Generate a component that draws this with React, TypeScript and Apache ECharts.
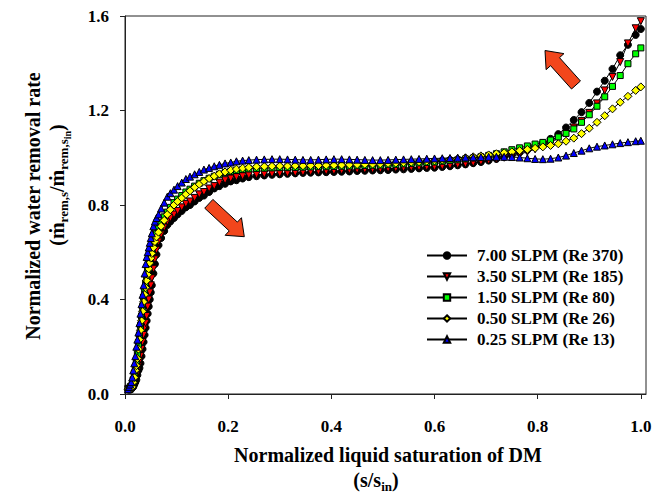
import React, { useEffect, useRef } from "react";
import * as echarts from "echarts";

// normalized liquid saturation s/s_in (shared sampling for all series)
const X_EARLY = [
  0.006, 0.008, 0.01, 0.012, 0.014, 0.016, 0.018, 0.02, 0.022, 0.024, 0.026, 0.028,
  0.03, 0.032, 0.034, 0.036, 0.038, 0.04, 0.042, 0.044, 0.046, 0.048, 0.05, 0.052,
  0.055, 0.058, 0.061, 0.065, 0.07, 0.076, 0.082, 0.088, 0.095, 0.102, 0.11, 0.118,
  0.126, 0.135, 0.144, 0.153, 0.163, 0.173, 0.183, 0.194, 0.205, 0.216, 0.228, 0.24,
];
const X_LATE = [
  0.255, 0.27, 0.285, 0.3, 0.315, 0.33, 0.345, 0.36, 0.375, 0.39,
  0.405, 0.42, 0.435, 0.45, 0.465, 0.48, 0.495, 0.51, 0.525, 0.54,
  0.555, 0.57, 0.585, 0.6, 0.615, 0.63, 0.645, 0.66, 0.675, 0.69,
  0.705, 0.72, 0.735, 0.75, 0.765, 0.78, 0.795, 0.81, 0.825, 0.84,
  0.855, 0.87, 0.885, 0.9, 0.915, 0.93, 0.945, 0.96, 0.975, 0.99,
  1.0,
];
const X_SAT = [...X_EARLY, ...X_LATE];

// 7.00 SLPM (Re 370)
const RATE_700 = [
  0.02, 0.02, 0.02, 0.02, 0.03, 0.03, 0.04, 0.05, 0.06, 0.08, 0.10, 0.11,
  0.13, 0.16, 0.19, 0.22, 0.25, 0.28, 0.31, 0.34, 0.37, 0.40, 0.43, 0.46,
  0.51, 0.55, 0.59, 0.63, 0.66, 0.69, 0.715, 0.73, 0.745, 0.76, 0.775, 0.79,
  0.80, 0.815, 0.83, 0.84, 0.855, 0.87, 0.88, 0.89, 0.90, 0.905, 0.912, 0.918,
  0.922, 0.925, 0.928, 0.930, 0.932, 0.934, 0.936, 0.937, 0.938, 0.939,
  0.940, 0.941, 0.942, 0.944, 0.945, 0.946, 0.947, 0.948, 0.950, 0.951,
  0.953, 0.955, 0.957, 0.958, 0.961, 0.964, 0.968, 0.972, 0.977, 0.982,
  0.988, 0.995, 1.003, 1.012, 1.022, 1.033, 1.045, 1.062, 1.080, 1.100,
  1.128, 1.160, 1.193, 1.232, 1.280, 1.326, 1.376, 1.434, 1.478, 1.520,
  1.545,
];
// 3.50 SLPM (Re 185)
const RATE_350 = [
  0.02, 0.02, 0.02, 0.03, 0.03, 0.04, 0.05, 0.06, 0.08, 0.10, 0.12, 0.14,
  0.16, 0.19, 0.22, 0.25, 0.28, 0.30, 0.33, 0.37, 0.40, 0.43, 0.46, 0.49,
  0.53, 0.57, 0.61, 0.645, 0.675, 0.705, 0.73, 0.745, 0.76, 0.775, 0.79, 0.805,
  0.815, 0.83, 0.845, 0.855, 0.87, 0.88, 0.895, 0.905, 0.912, 0.918, 0.922, 0.926,
  0.928, 0.930, 0.932, 0.933, 0.934, 0.936, 0.938, 0.940, 0.942, 0.943,
  0.944, 0.946, 0.948, 0.949, 0.950, 0.951, 0.952, 0.954, 0.955, 0.957,
  0.958, 0.960, 0.961, 0.962, 0.964, 0.967, 0.970, 0.974, 0.978, 0.983,
  0.988, 0.994, 1.000, 1.007, 1.015, 1.025, 1.036, 1.050, 1.066, 1.082,
  1.103, 1.128, 1.156, 1.190, 1.230, 1.285, 1.342, 1.405, 1.484, 1.548,
  1.578,
];
// 1.50 SLPM (Re 80)
const RATE_150 = [
  0.02, 0.02, 0.03, 0.03, 0.04, 0.06, 0.08, 0.11, 0.14, 0.17, 0.21, 0.25,
  0.29, 0.33, 0.37, 0.41, 0.44, 0.47, 0.50, 0.525, 0.55, 0.57, 0.59, 0.61,
  0.635, 0.66, 0.68, 0.70, 0.725, 0.75, 0.77, 0.79, 0.81, 0.825, 0.84, 0.855,
  0.867, 0.88, 0.892, 0.903, 0.913, 0.922, 0.93, 0.937, 0.942, 0.946, 0.95, 0.953,
  0.955, 0.956, 0.957, 0.958, 0.958, 0.959, 0.960, 0.961, 0.962, 0.962,
  0.963, 0.964, 0.965, 0.966, 0.967, 0.968, 0.969, 0.971, 0.972, 0.974,
  0.976, 0.978, 0.980, 0.982, 0.985, 0.988, 0.991, 0.995, 0.999, 1.004,
  1.010, 1.017, 1.025, 1.034, 1.042, 1.050, 1.058, 1.065, 1.075, 1.088,
  1.103, 1.122, 1.150, 1.182, 1.218, 1.258, 1.302, 1.348, 1.398, 1.440,
  1.465,
];
// 0.50 SLPM (Re 26)
const RATE_050 = [
  0.02, 0.02, 0.02, 0.03, 0.03, 0.05, 0.07, 0.10, 0.12, 0.15, 0.19, 0.23,
  0.27, 0.31, 0.35, 0.39, 0.42, 0.45, 0.48, 0.505, 0.53, 0.555, 0.575, 0.595,
  0.62, 0.645, 0.665, 0.685, 0.71, 0.735, 0.76, 0.78, 0.80, 0.815, 0.83, 0.845,
  0.86, 0.875, 0.888, 0.90, 0.912, 0.922, 0.932, 0.94, 0.947, 0.952, 0.956, 0.959,
  0.962, 0.963, 0.964, 0.965, 0.965, 0.966, 0.966, 0.967, 0.967, 0.968,
  0.968, 0.969, 0.970, 0.971, 0.972, 0.973, 0.974, 0.976, 0.977, 0.979,
  0.981, 0.983, 0.985, 0.987, 0.990, 0.993, 0.996, 1.000, 1.004, 1.008,
  1.012, 1.017, 1.021, 1.025, 1.030, 1.035, 1.040, 1.046, 1.052, 1.059,
  1.070, 1.083, 1.102, 1.125, 1.150, 1.178, 1.207, 1.235, 1.260, 1.285,
  1.300,
];
// 0.25 SLPM (Re 13)
const RATE_025 = [
  0.02, 0.03, 0.04, 0.05, 0.07, 0.10, 0.13, 0.16, 0.20, 0.23, 0.26, 0.30,
  0.34, 0.38, 0.42, 0.46, 0.51, 0.55, 0.58, 0.60, 0.62, 0.64, 0.66, 0.68,
  0.71, 0.73, 0.745, 0.76, 0.785, 0.81, 0.835, 0.85, 0.865, 0.88, 0.895, 0.91,
  0.92, 0.93, 0.94, 0.95, 0.957, 0.964, 0.97, 0.976, 0.98, 0.985, 0.988, 0.99,
  0.992, 0.993, 0.994, 0.994, 0.993, 0.992, 0.991, 0.991, 0.992, 0.993,
  0.994, 0.994, 0.993, 0.992, 0.991, 0.990, 0.990, 0.991, 0.992, 0.993,
  0.994, 0.995, 0.996, 0.997, 0.998, 0.999, 1.000, 1.001, 1.002, 1.003,
  1.004, 1.004, 1.004, 1.003, 1.001, 0.998, 0.995, 0.994, 0.996, 1.001,
  1.009, 1.020, 1.030, 1.040, 1.047, 1.052, 1.057, 1.062, 1.066, 1.070,
  1.072,
];

const SERIES_NAMES = [
  "7.00 SLPM (Re 370)",
  "3.50 SLPM (Re 185)",
  "1.50 SLPM (Re 80)",
  "0.50 SLPM (Re 26)",
  "0.25 SLPM (Re 13)",
];
const X_TICKS = [0, 0.2, 0.4, 0.6, 0.8, 1.0];

const FONT = '"Liberation Serif", "Times New Roman", Times, serif';

type Piece = { t: string; size: number; dy: number };

function textWidth(t: string, size: number): number {
  const ctx = document.createElement("canvas").getContext("2d");
  if (!ctx) return t.length * size * 0.5;
  ctx.font = `bold ${size}px ${FONT}`;
  return ctx.measureText(t).width;
}

function textEl(t: string, size: number, x: number, y: number, align = "left") {
  return {
    type: "text",
    x,
    y,
    style: {
      text: t,
      fontSize: size,
      fontWeight: "bold",
      fontFamily: FONT,
      fill: "#000",
      align,
      verticalAlign: "middle",
      textAlign: align,
      textVerticalAlign: "middle",
    },
  };
}

function piecesRow(pieces: Piece[]) {
  const widths = pieces.map((p) => textWidth(p.t, p.size));
  const total = widths.reduce((a, b) => a + b, 0);
  let x = -total / 2;
  return pieces.map((p, i) => {
    const el = textEl(p.t, p.size, x, p.dy);
    x += widths[i];
    return el;
  });
}

function arrowPoints(
  tx: number, ty: number, hx: number, hy: number,
  shaft: number, headW: number, headL: number
) {
  const dx = hx - tx;
  const dy = hy - ty;
  const L = Math.hypot(dx, dy);
  const ux = dx / L, uy = dy / L;
  const nx = -uy, ny = ux;
  const bx = hx - ux * headL, by = hy - uy * headL;
  const s = shaft / 2, w = headW / 2;
  return [
    [tx + nx * s, ty + ny * s],
    [bx + nx * s, by + ny * s],
    [bx + nx * w, by + ny * w],
    [hx, hy],
    [bx - nx * w, by - ny * w],
    [bx - nx * s, by - ny * s],
    [tx - nx * s, ty - ny * s],
  ];
}

export default function App() {
  const ref = useRef<HTMLDivElement>(null);

  useEffect(() => {
    if (!ref.current) return;
    const chart = echarts.init(ref.current, undefined, { renderer: "svg" });

    const rates = [RATE_700, RATE_350, RATE_150, RATE_050, RATE_025];
    const symbols = ["circle", "triangle", "rect", "diamond", "triangle"];
    const rotates = [0, 180, 0, 0, 0];
    const sizes = [7, 7, 6, 8, 7];
    const fills = ["#000000", "#ff0000", "#00ff00", "#ffff00", "#0000ff"];

    const series = SERIES_NAMES.map((name, k) => ({
      name,
      type: "line",
      data: X_SAT.map((x, i) => [x, rates[k][i]]),
      symbol: symbols[k],
      symbolRotate: rotates[k],
      symbolSize: sizes[k],
      showSymbol: true,
      lineStyle: { color: "#000", width: 1 },
      itemStyle: { color: fills[k], borderColor: "#000", borderWidth: 1 },
      z: 2 + k,
    }));

    const labelStyle = {
      fontFamily: FONT,
      fontWeight: "bold",
      fontSize: 17,
      color: "#000",
    };

    const arrowStyle = { fill: "#f2461c", stroke: "#000", lineWidth: 1 };

    chart.setOption({
      animation: false,
      backgroundColor: "#fff",
      grid: {
        left: 125,
        top: 16,
        right: 24,
        bottom: 100,
        show: true,
        borderColor: "#222",
        borderWidth: 1,
      },
      xAxis: {
        type: "value",
        min: 0,
        max: 1.01,
        interval: 0.2,
        axisLine: { show: true, onZero: false, lineStyle: { color: "#222", width: 1 } },
        axisTick: {
          show: true,
          inside: false,
          length: 5,
          customValues: X_TICKS,
          lineStyle: { color: "#222" },
        },
        axisLabel: {
          ...labelStyle,
          customValues: X_TICKS,
          margin: 24,
          formatter: (v: number) => v.toFixed(1),
        },
        splitLine: { show: false },
      },
      yAxis: {
        type: "value",
        min: 0,
        max: 1.6,
        interval: 0.4,
        axisLine: { show: true, onZero: false, lineStyle: { color: "#222", width: 1 } },
        axisTick: { show: true, inside: false, length: 5, lineStyle: { color: "#222" } },
        axisLabel: {
          ...labelStyle,
          margin: 16,
          formatter: (v: number) => v.toFixed(1),
        },
        splitLine: { show: false },
      },
      legend: {
        orient: "vertical",
        left: 421,
        top: 242,
        itemWidth: 40,
        itemHeight: 8,
        itemGap: 4,
        selectedMode: false,
        textStyle: { ...labelStyle, lineHeight: 17, padding: [0, 0, 0, 5] },
        data: SERIES_NAMES,
      },
      graphic: [
        {
          type: "text",
          x: 33,
          y: 206,
          rotation: Math.PI / 2,
          style: {
            text: "Normalized water removal rate",
            fontSize: 20,
            fontWeight: "bold",
            fontFamily: FONT,
            fill: "#000",
            align: "center",
            verticalAlign: "middle",
            textAlign: "center",
            textVerticalAlign: "middle",
          },
        },
        {
          type: "group",
          x: 57,
          y: 185,
          rotation: Math.PI / 2,
          children: piecesRow([
            { t: "(", size: 20, dy: 0 },
            { t: "ṁ", size: 20, dy: 0 },
            { t: "rem,s", size: 13, dy: 6 },
            { t: "/ṁ", size: 20, dy: 0 },
            { t: "rem,s", size: 13, dy: 6 },
            { t: "in", size: 10, dy: 10 },
            { t: ")", size: 20, dy: 0 },
          ]),
        },
        textEl("Normalized liquid saturation of DM", 20, 388, 455, "center"),
        {
          type: "group",
          x: 376,
          y: 480,
          children: piecesRow([
            { t: "(s/s", size: 20, dy: 0 },
            { t: "in", size: 13, dy: 6 },
            { t: ")", size: 20, dy: 0 },
          ]),
        },
        {
          type: "polygon",
          z: 100,
          shape: { points: arrowPoints(208.8, 203.8, 244.3, 236.7, 12, 24, 15) },
          style: arrowStyle,
        },
        {
          type: "polygon",
          z: 100,
          shape: { points: arrowPoints(576, 85, 545, 50.5, 12, 24, 15) },
          style: arrowStyle,
        },
      ],
      series,
    });

    return () => chart.dispose();
  }, []);

  return (
    <div
      ref={ref}
      style={{ position: "fixed", left: 0, top: 0, width: 670, height: 494 }}
    />
  );
}
